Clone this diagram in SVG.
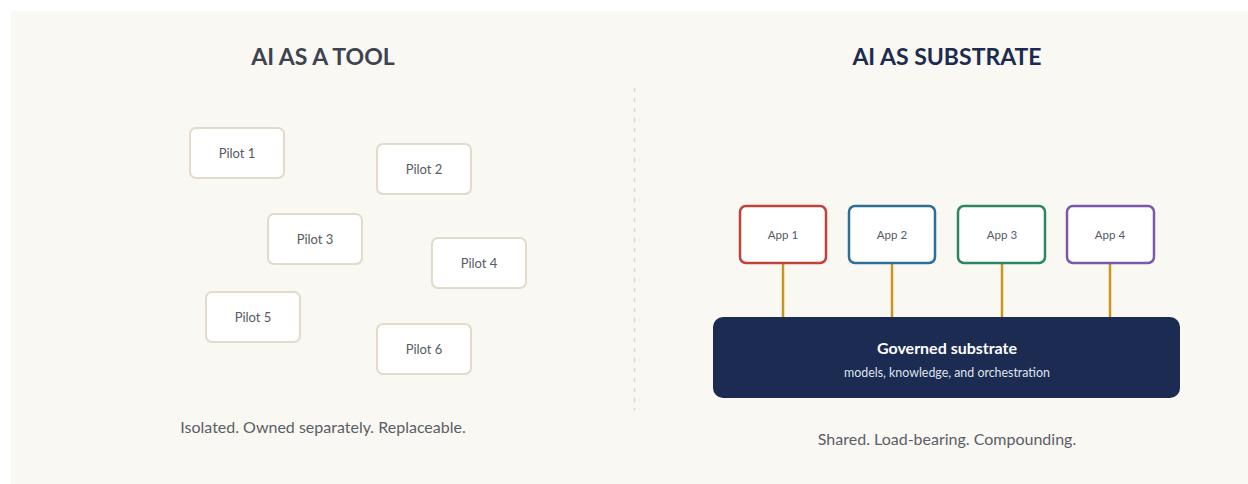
<svg xmlns="http://www.w3.org/2000/svg" width="1248" height="484" viewBox="0 0 1248 484">
<style>
.bg{fill:#faf8f3}
.title{font-family:Lato,"Liberation Sans",sans-serif;font-weight:700;font-size:23px;text-anchor:middle}
.pilot rect{fill:#ffffff;stroke:#e2dbcc;stroke-width:2}
.pilot text,.app text{font-family:Lato,"Liberation Sans",sans-serif;font-size:13px;fill:#555a63;text-anchor:middle}
.app text{font-size:11.5px}
.app rect{fill:#ffffff;stroke-width:2.5}
.cap{font-family:Lato,"Liberation Sans",sans-serif;font-size:16px;fill:#5a5e66;text-anchor:middle}
.conn line{stroke:#c8961e;stroke-width:2.5}
</style>
<rect x="0" y="0" width="1248" height="484" fill="#ffffff"/>
<rect class="bg" x="11" y="11" width="1237" height="473"/>
<line x1="634.5" y1="88" x2="634.5" y2="410" stroke="#dcd6cc" stroke-width="1.5" stroke-dasharray="4 6"/>
<text class="title" x="323" y="65" fill="#3e4350">AI AS A TOOL</text>
<text class="title" x="947" y="65" fill="#1c2b50">AI AS SUBSTRATE</text>
<g id="pilot1" class="pilot"><rect x="190" y="128" width="94" height="50" rx="6"/><text x="237" y="158">Pilot 1</text></g>
<g id="pilot2" class="pilot"><rect x="377" y="144" width="94" height="50" rx="6"/><text x="424" y="174">Pilot 2</text></g>
<g id="pilot3" class="pilot"><rect x="268" y="214" width="94" height="50" rx="6"/><text x="315" y="244">Pilot 3</text></g>
<g id="pilot4" class="pilot"><rect x="432" y="238" width="94" height="50" rx="6"/><text x="479" y="268">Pilot 4</text></g>
<g id="pilot5" class="pilot"><rect x="206" y="292" width="94" height="50" rx="6"/><text x="253" y="322">Pilot 5</text></g>
<g id="pilot6" class="pilot"><rect x="377" y="324" width="94" height="50" rx="6"/><text x="424" y="354">Pilot 6</text></g>
<text class="cap" x="323" y="433">Isolated. Owned separately. Replaceable.</text>
<g id="connectors" class="conn">
<line x1="783" y1="263" x2="783" y2="318"/>
<line x1="892" y1="263" x2="892" y2="318"/>
<line x1="1002" y1="263" x2="1002" y2="318"/>
<line x1="1110" y1="263" x2="1110" y2="318"/>
</g>
<g id="app1" class="app"><rect x="740" y="206" width="86" height="57" rx="6" stroke="#c0433a"/><text x="783" y="239">App 1</text></g>
<g id="app2" class="app"><rect x="849" y="206" width="86" height="57" rx="6" stroke="#2f6f97"/><text x="892" y="239">App 2</text></g>
<g id="app3" class="app"><rect x="958" y="206" width="87" height="57" rx="6" stroke="#2a8762"/><text x="1002" y="239">App 3</text></g>
<g id="app4" class="app"><rect x="1067" y="206" width="87" height="57" rx="6" stroke="#7a5aa8"/><text x="1110" y="239">App 4</text></g>
<g id="substrate"><rect x="713" y="317" width="467" height="81" rx="10" fill="#1c2b52"/>
<text x="947" y="354" font-family="Lato,'Liberation Sans',sans-serif" font-weight="700" font-size="16" fill="#ffffff" text-anchor="middle">Governed substrate</text>
<text x="947" y="377" font-family="Lato,'Liberation Sans',sans-serif" font-size="12.4" fill="#dfe3ec" text-anchor="middle">models, knowledge, and orchestration</text></g>
<text class="cap" x="947" y="445">Shared. Load-bearing. Compounding.</text>
</svg>
